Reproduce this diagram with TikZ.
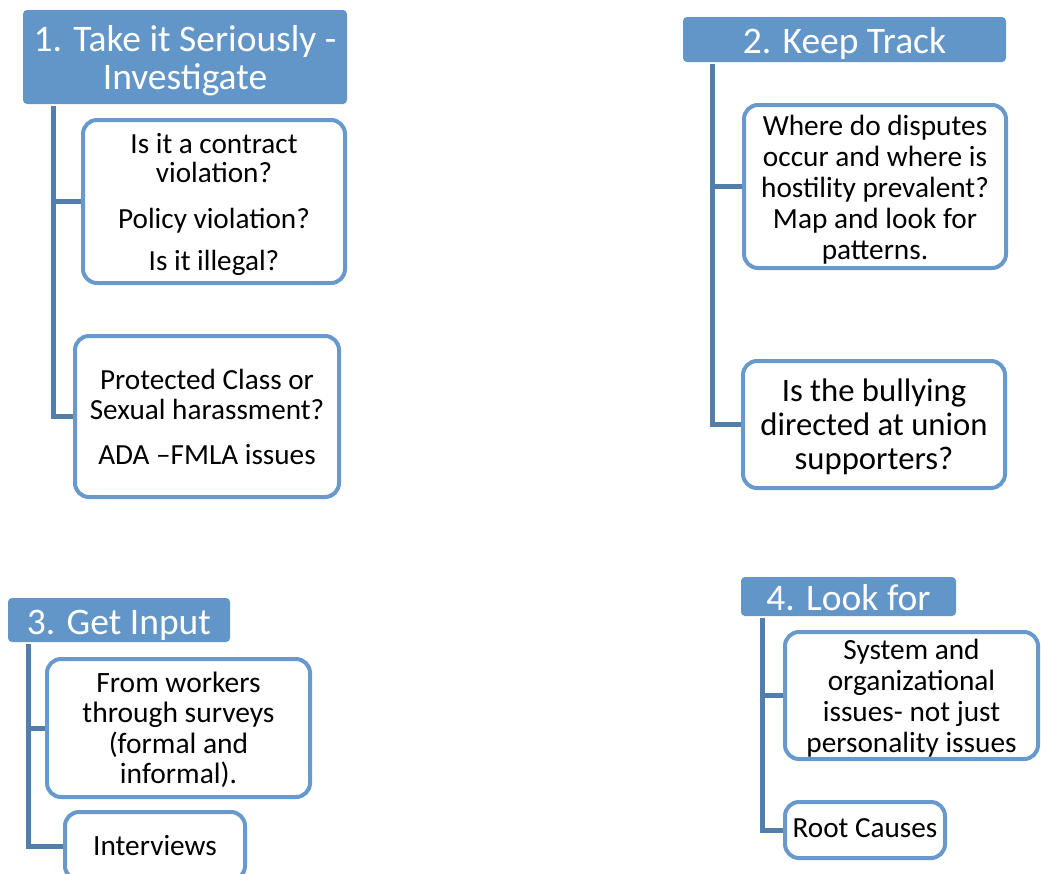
\documentclass[tikz,border=0pt]{standalone}
\usepackage{fontspec}
\setmainfont{Carlito}
\usetikzlibrary{backgrounds}
\definecolor{hdr}{RGB}{99,150,200}
\definecolor{bdr}{RGB}{104,153,204}
\definecolor{con}{RGB}{82,126,172}
\tikzset{
 hdrbox/.style={fill=hdr, draw=none, rounded corners=4pt, inner sep=0pt},
 itembox/.style={draw=bdr, line width=4pt, fill=white, rounded corners=14pt, inner sep=0pt},
 hdrtext/.style={text=white, align=center, inner sep=0pt, font=\fs{37.5}{38}},
 itemtext/.style={text=black, align=center, inner sep=0pt},
 conn/.style={draw=con, line width=5pt},
}
\newcommand{\fs}[2]{\fontsize{#1}{#2}\selectfont}
\begin{document}
\begin{tikzpicture}[x=1pt,y=-1pt]
\useasboundingbox (0,0) rectangle (1041,873);
% group 1
\node[hdrbox, minimum width=324pt, minimum height=94pt] (h1) at (185,57) {};
\node[hdrtext] (t1) at ([yshift=-4pt]h1.center) {1. Take it Seriously -\\Investigate};
\node[itembox, minimum width=262pt, minimum height=163pt] (b1a) at (214,201.5) {};
\node[itemtext, font=\fs{29.2}{29}] (t1a) at ([yshift=-2.5pt]b1a.center) {Is it a contract\\violation?\\[17pt]Policy violation?\\[13pt]Is it illegal?};
\node[itembox, minimum width=264pt, minimum height=161pt] (b1b) at (207,416.5) {};
\node[itemtext, font=\fs{29.2}{30}] (t1b) at ([yshift=-0.5pt]b1b.center) {Protected Class or\\Sexual harassment?\\[15pt]ADA –FMLA issues};
\coordinate (v1) at (53,106);
% group 2
\node[hdrbox, minimum width=323pt, minimum height=45pt] (h2) at (844.5,39.5) {};
\node[hdrtext] (t2) at ([yshift=-4pt]h2.center) {2. Keep Track};
\node[itembox, minimum width=262pt, minimum height=163pt] (b2a) at (875,186.5) {};
\node[itemtext, font=\fs{29.3}{31}] (t2a) at ([yshift=-3pt]b2a.center) {Where do disputes\\occur and where is\\hostility prevalent?\\Map and look for\\patterns.};
\node[itembox, minimum width=262pt, minimum height=127pt] (b2b) at (874,424.5) {};
\node[itemtext, font=\fs{32.7}{34}] (t2b) at ([yshift=-2pt]b2b.center) {Is the bullying\\directed at union\\supporters?};
\coordinate (v2) at (712,64);
% group 3
\node[hdrbox, minimum width=222pt, minimum height=44pt] (h3) at (119,620) {};
\node[hdrtext] (t3) at ([yshift=-5pt]h3.center) {3. Get Input};
\node[itembox, minimum width=263pt, minimum height=138pt] (b3a) at (178.5,728) {};
\node[itemtext, font=\fs{29.5}{30.5}] (t3a) at ([yshift=-2pt]b3a.center) {From workers\\through surveys\\(formal and\\informal).};
\node[itembox, minimum width=180pt, minimum height=68pt] (b3b) at (155,846) {};
\node[itemtext, font=\fs{29.3}{30}] (t3b) at (b3b.center) {Interviews};
\coordinate (v3) at (28,644);
% group 4
\node[hdrbox, minimum width=215pt, minimum height=39pt] (h4) at (848.5,596.5) {};
\node[hdrtext] (t4) at ([yshift=-1pt]h4.center) {4. Look for};
\node[itembox, minimum width=253pt, minimum height=127pt] (b4a) at (911.5,695.5) {};
\node[itemtext, font=\fs{29.3}{31}] (t4a) at ([yshift=-3pt]b4a.center) {System and\\organizational\\issues- not just\\personality issues};
\node[itembox, minimum width=160pt, minimum height=56pt] (b4b) at (865,830) {};
\node[itemtext, font=\fs{29.2}{30}] (t4b) at ([yshift=2pt]b4b.center) {Root Causes};
\coordinate (v4) at (762,618);
\begin{scope}[on background layer]
\draw[conn] (v1) |- (b1b.west);
\draw[conn] (b1a.west) -- (b1a.west -| v1);
\draw[conn] (v2) |- (b2b.west);
\draw[conn] (b2a.west) -- (b2a.west -| v2);
\draw[conn] (v3) |- (b3b.west);
\draw[conn] (b3a.west) -- (b3a.west -| v3);
\draw[conn] (v4) |- (b4b.west);
\draw[conn] (b4a.west) -- (b4a.west -| v4);
\end{scope}
\end{tikzpicture}
\end{document}
